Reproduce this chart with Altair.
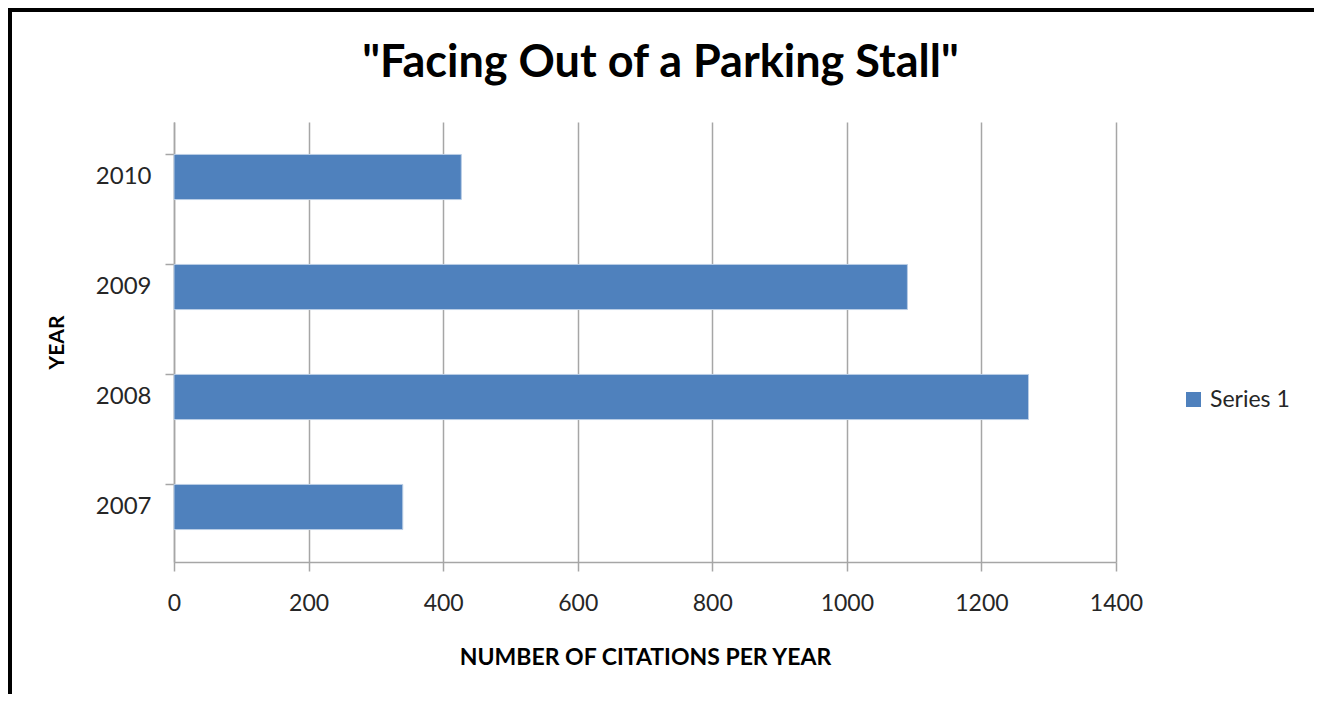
import altair as alt
import pandas as pd

title_text = '"Facing Out of a Parking Stall"'
years = ["2010", "2009", "2008", "2007"]
citations = [427, 1090, 1270, 340]
series = ["Series 1", "Series 1", "Series 1", "Series 1"]
x_ticks = [0, 200, 400, 600, 800, 1000, 1200, 1400]

df = pd.DataFrame({"year": years, "citations": citations, "series": series})

FONT = "Lato"
GRID = "#a6a6a6"

bars = alt.Chart(df).mark_bar(
    stroke="#b9cde5", strokeWidth=1
).encode(
    x=alt.X(
        "citations:Q",
        scale=alt.Scale(domain=[0, 1400], nice=False),
        axis=alt.Axis(
            values=x_ticks, format="d", title="NUMBER OF CITATIONS PER YEAR",
            labelFlush=False,
            grid=True, gridColor=GRID, gridWidth=1.5,
            domainColor=GRID, domainWidth=1.5,
            tickColor=GRID, tickWidth=1.5, tickSize=9,
            labelFont=FONT, labelFontSize=23, labelColor="#262626", labelPadding=21,
            titleFont=FONT, titleFontSize=23, titleFontWeight="bold",
            titleColor="#000000", titlePadding=31,
        ),
    ),
    y=alt.Y(
        "year:N", sort=years,
        scale=alt.Scale(paddingInner=0.59, paddingOuter=0.295),
        axis=alt.Axis(
            title="YEAR", grid=False, bandPosition=0,
            domainColor=GRID, domainWidth=1.5,
            tickColor=GRID, tickWidth=1.5, tickSize=9,
            labelFont=FONT, labelFontSize=24, labelColor="#262626", labelPadding=14,
            titleFont=FONT, titleFontSize=21, titleFontWeight="bold",
            titleColor="#000000", titlePadding=28,
        ),
    ),
    color=alt.Color(
        "series:N",
        scale=alt.Scale(range=["#4F81BD"]),
        legend=alt.Legend(
            title=None, orient="none", legendX=1008, legendY=266,
            symbolType="square", symbolSize=225, symbolStrokeWidth=0,
            labelFont=FONT, labelFontSize=23, labelColor="#262626", labelOffset=5,
        ),
    ),
)

title = alt.Chart(pd.DataFrame({"t": [title_text]})).mark_text(
    font=FONT, fontSize=45, fontWeight="bold", color="#000000",
    align="center", baseline="middle",
).encode(
    text="t:N", x=alt.value(486.5), y=alt.value(-59),
)

border = alt.Chart(pd.DataFrame({"b": [0]})).mark_rect(
    fillOpacity=0, stroke="#000000", strokeWidth=5
).encode(
    x=alt.value(-164.5), x2=alt.value(1143.5),
    y=alt.value(-112.5), y2=alt.value(640),
)

chart = alt.layer(bars, title, border).properties(
    width=942, height=440,
    autosize=alt.AutoSizeParams(type="none"),
    padding={"left": 166, "top": 114, "right": 198, "bottom": 132},
).configure_view(stroke=None)

chart.save("out.html", embed_options={"renderer": "svg", "actions": False})
